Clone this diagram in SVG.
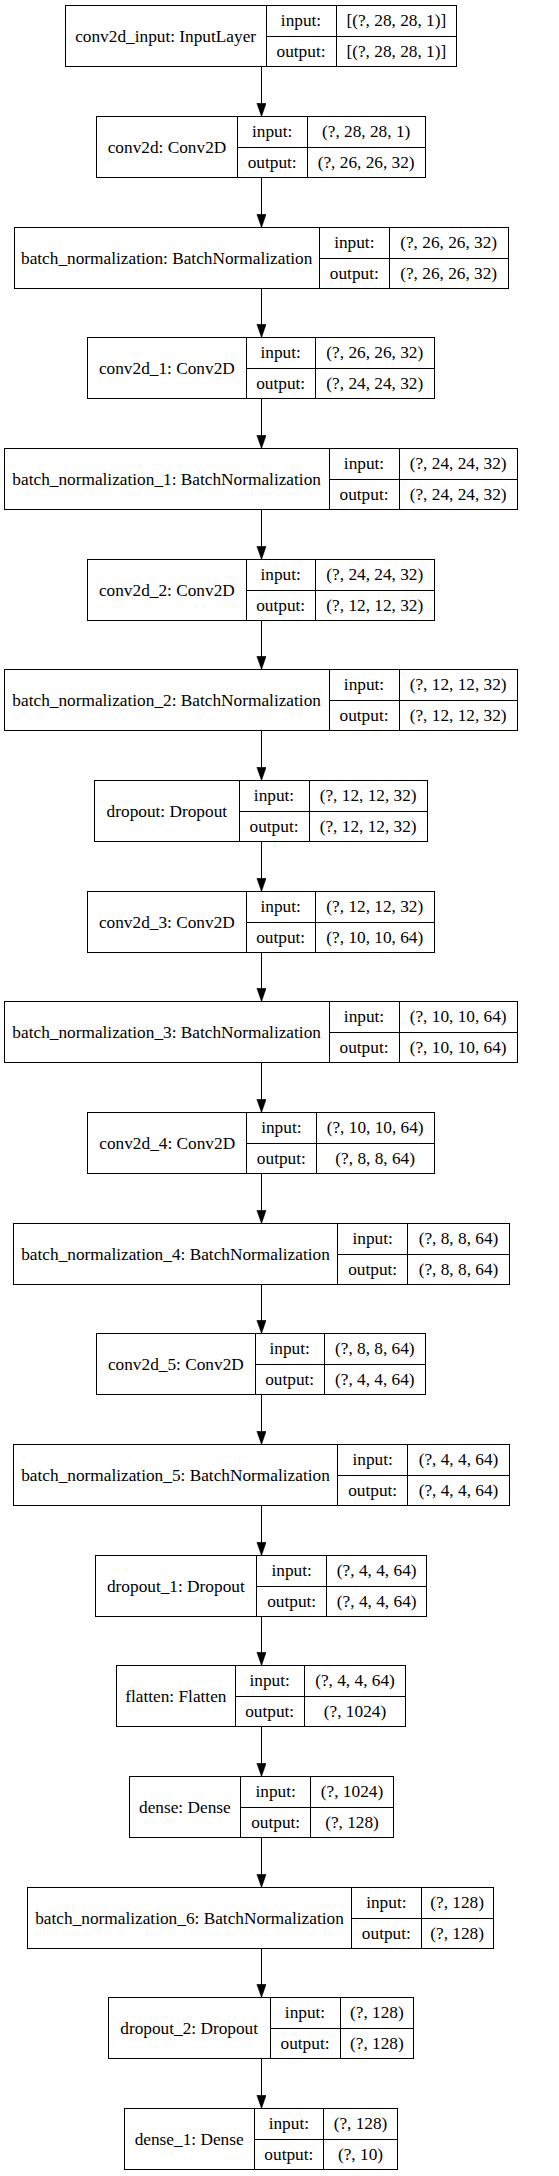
<svg xmlns="http://www.w3.org/2000/svg" width="559" height="2176" viewBox="0 0 559 2176" font-family="'Liberation Serif', 'Times New Roman', serif">
<style>
.n rect{fill:#fff;stroke:#000;stroke-width:1}
.n path{fill:none;stroke:#000;stroke-width:1}
.n text{font-family:'Liberation Serif','Times New Roman',serif;font-size:17.3px;fill:#000;text-anchor:middle}
#edges line{stroke:#000;stroke-width:1}
</style>
<defs>
<marker id="ah" markerUnits="userSpaceOnUse" markerWidth="14" markerHeight="10" refX="13.33" refY="4.67" orient="auto">
<path d="M0,0L13.33,4.67L0,9.33z" fill="#000" stroke="#000" stroke-width="0.5"/>
</marker>
</defs>
<rect width="559" height="2176" fill="#fff"/>
<g id="edges">
<line x1="261.5" y1="66.5" x2="261.5" y2="116.5" marker-end="url(#ah)"/>
<line x1="261.5" y1="177.5" x2="261.5" y2="227.5" marker-end="url(#ah)"/>
<line x1="261.5" y1="288.5" x2="261.5" y2="337.5" marker-end="url(#ah)"/>
<line x1="261.5" y1="398.5" x2="261.5" y2="448.5" marker-end="url(#ah)"/>
<line x1="261.5" y1="509.5" x2="261.5" y2="559.5" marker-end="url(#ah)"/>
<line x1="261.5" y1="620.5" x2="261.5" y2="669.5" marker-end="url(#ah)"/>
<line x1="261.5" y1="730.5" x2="261.5" y2="780.5" marker-end="url(#ah)"/>
<line x1="261.5" y1="841.5" x2="261.5" y2="891.5" marker-end="url(#ah)"/>
<line x1="261.5" y1="952.5" x2="261.5" y2="1001.5" marker-end="url(#ah)"/>
<line x1="261.5" y1="1062.5" x2="261.5" y2="1112.5" marker-end="url(#ah)"/>
<line x1="261.5" y1="1173.5" x2="261.5" y2="1223.5" marker-end="url(#ah)"/>
<line x1="261.5" y1="1284.5" x2="261.5" y2="1333.5" marker-end="url(#ah)"/>
<line x1="261.5" y1="1394.5" x2="261.5" y2="1444.5" marker-end="url(#ah)"/>
<line x1="261.5" y1="1505.5" x2="261.5" y2="1555.5" marker-end="url(#ah)"/>
<line x1="261.5" y1="1616.5" x2="261.5" y2="1665.5" marker-end="url(#ah)"/>
<line x1="261.5" y1="1726.5" x2="261.5" y2="1776.5" marker-end="url(#ah)"/>
<line x1="261.5" y1="1837.5" x2="261.5" y2="1887.5" marker-end="url(#ah)"/>
<line x1="261.5" y1="1948.5" x2="261.5" y2="1997.5" marker-end="url(#ah)"/>
<line x1="261.5" y1="2058.5" x2="261.5" y2="2108.5" marker-end="url(#ah)"/>
</g>
<g id="n0" class="n"><rect x="65.5" y="5.5" width="391" height="61"/><path d="M266.5,5.5V66.5M336.5,5.5V66.5M266.5,36.5H456.5"/><text x="165.65" y="41.9">conv2d_input: InputLayer</text><text x="301" y="26.3">input:</text><text x="301" y="57.2">output:</text><text x="396.35" y="26.3">[(?, 28, 28, 1)]</text><text x="396.35" y="57.2">[(?, 28, 28, 1)]</text></g>
<g id="n1" class="n"><rect x="96.5" y="116.5" width="329" height="61"/><path d="M237.5,116.5V177.5M307.5,116.5V177.5M237.5,147.5H425.5"/><text x="167" y="152.9">conv2d: Conv2D</text><text x="272.15" y="137.3">input:</text><text x="272.15" y="168.2">output:</text><text x="366.15" y="137.3">(?, 28, 28, 1)</text><text x="366.15" y="168.2">(?, 26, 26, 32)</text></g>
<g id="n2" class="n"><rect x="14.5" y="227.5" width="494" height="61"/><path d="M319.5,227.5V288.5M389.5,227.5V288.5M319.5,258.5H508.5"/><text x="166.65" y="263.9">batch_normalization: BatchNormalization</text><text x="354.3" y="248.3">input:</text><text x="354.3" y="279.2">output:</text><text x="448.65" y="248.3">(?, 26, 26, 32)</text><text x="448.65" y="279.2">(?, 26, 26, 32)</text></g>
<g id="n3" class="n"><rect x="87.5" y="337.5" width="347" height="61"/><path d="M246.5,337.5V398.5M315.5,337.5V398.5M246.5,368.5H434.5"/><text x="166.85" y="373.9">conv2d_1: Conv2D</text><text x="280.65" y="358.3">input:</text><text x="280.65" y="389.2">output:</text><text x="374.8" y="358.3">(?, 26, 26, 32)</text><text x="374.8" y="389.2">(?, 24, 24, 32)</text></g>
<g id="n4" class="n"><rect x="4.5" y="448.5" width="513" height="61"/><path d="M329.5,448.5V509.5M399.5,448.5V509.5M329.5,479.5H517.5"/><text x="166.65" y="484.9">batch_normalization_1: BatchNormalization</text><text x="364" y="469.3">input:</text><text x="364" y="500.2">output:</text><text x="458.15" y="469.3">(?, 24, 24, 32)</text><text x="458.15" y="500.2">(?, 24, 24, 32)</text></g>
<g id="n5" class="n"><rect x="87.5" y="559.5" width="347" height="61"/><path d="M246.5,559.5V620.5M315.5,559.5V620.5M246.5,590.5H434.5"/><text x="166.85" y="595.9">conv2d_2: Conv2D</text><text x="280.65" y="580.3">input:</text><text x="280.65" y="611.2">output:</text><text x="374.8" y="580.3">(?, 24, 24, 32)</text><text x="374.8" y="611.2">(?, 12, 12, 32)</text></g>
<g id="n6" class="n"><rect x="4.5" y="669.5" width="513" height="61"/><path d="M329.5,669.5V730.5M399.5,669.5V730.5M329.5,700.5H517.5"/><text x="166.65" y="705.9">batch_normalization_2: BatchNormalization</text><text x="364" y="690.3">input:</text><text x="364" y="721.2">output:</text><text x="458.15" y="690.3">(?, 12, 12, 32)</text><text x="458.15" y="721.2">(?, 12, 12, 32)</text></g>
<g id="n7" class="n"><rect x="94.5" y="780.5" width="333" height="61"/><path d="M239.5,780.5V841.5M309.5,780.5V841.5M239.5,811.5H427.5"/><text x="166.85" y="816.9">dropout: Dropout</text><text x="274" y="801.3">input:</text><text x="274" y="832.2">output:</text><text x="368.15" y="801.3">(?, 12, 12, 32)</text><text x="368.15" y="832.2">(?, 12, 12, 32)</text></g>
<g id="n8" class="n"><rect x="87.5" y="891.5" width="347" height="61"/><path d="M246.5,891.5V952.5M315.5,891.5V952.5M246.5,922.5H434.5"/><text x="166.85" y="927.9">conv2d_3: Conv2D</text><text x="280.65" y="912.3">input:</text><text x="280.65" y="943.2">output:</text><text x="374.8" y="912.3">(?, 12, 12, 32)</text><text x="374.8" y="943.2">(?, 10, 10, 64)</text></g>
<g id="n9" class="n"><rect x="4.5" y="1001.5" width="513" height="61"/><path d="M329.5,1001.5V1062.5M399.5,1001.5V1062.5M329.5,1032.5H517.5"/><text x="166.65" y="1037.9">batch_normalization_3: BatchNormalization</text><text x="364" y="1022.3">input:</text><text x="364" y="1053.2">output:</text><text x="458.15" y="1022.3">(?, 10, 10, 64)</text><text x="458.15" y="1053.2">(?, 10, 10, 64)</text></g>
<g id="n10" class="n"><rect x="87.5" y="1112.5" width="347" height="61"/><path d="M246.5,1112.5V1173.5M316.5,1112.5V1173.5M246.5,1143.5H434.5"/><text x="167.2" y="1148.9">conv2d_4: Conv2D</text><text x="281.35" y="1133.3">input:</text><text x="281.35" y="1164.2">output:</text><text x="375.15" y="1133.3">(?, 10, 10, 64)</text><text x="375.15" y="1164.2">(?, 8, 8, 64)</text></g>
<g id="n11" class="n"><rect x="13.5" y="1223.5" width="496" height="61"/><path d="M337.5,1223.5V1284.5M407.5,1223.5V1284.5M337.5,1254.5H509.5"/><text x="175.5" y="1259.9">batch_normalization_4: BatchNormalization</text><text x="372.7" y="1244.3">input:</text><text x="372.7" y="1275.2">output:</text><text x="458.5" y="1244.3">(?, 8, 8, 64)</text><text x="458.5" y="1275.2">(?, 8, 8, 64)</text></g>
<g id="n12" class="n"><rect x="96.5" y="1333.5" width="329" height="61"/><path d="M255.5,1333.5V1394.5M324.5,1333.5V1394.5M255.5,1364.5H425.5"/><text x="175.85" y="1369.9">conv2d_5: Conv2D</text><text x="289.65" y="1354.3">input:</text><text x="289.65" y="1385.2">output:</text><text x="374.8" y="1354.3">(?, 8, 8, 64)</text><text x="374.8" y="1385.2">(?, 4, 4, 64)</text></g>
<g id="n13" class="n"><rect x="13.5" y="1444.5" width="496" height="61"/><path d="M337.5,1444.5V1505.5M407.5,1444.5V1505.5M337.5,1475.5H509.5"/><text x="175.5" y="1480.9">batch_normalization_5: BatchNormalization</text><text x="372.7" y="1465.3">input:</text><text x="372.7" y="1496.2">output:</text><text x="458.5" y="1465.3">(?, 4, 4, 64)</text><text x="458.5" y="1496.2">(?, 4, 4, 64)</text></g>
<g id="n14" class="n"><rect x="95.5" y="1555.5" width="331" height="61"/><path d="M256.5,1555.5V1616.5M326.5,1555.5V1616.5M256.5,1586.5H426.5"/><text x="175.85" y="1591.9">dropout_1: Dropout</text><text x="291.7" y="1576.3">input:</text><text x="291.7" y="1607.2">output:</text><text x="376.7" y="1576.3">(?, 4, 4, 64)</text><text x="376.7" y="1607.2">(?, 4, 4, 64)</text></g>
<g id="n15" class="n"><rect x="116.5" y="1665.5" width="289" height="61"/><path d="M235.5,1665.5V1726.5M304.5,1665.5V1726.5M235.5,1696.5H405.5"/><text x="175.85" y="1701.9">flatten: Flatten</text><text x="269.65" y="1686.3">input:</text><text x="269.65" y="1717.2">output:</text><text x="355" y="1686.3">(?, 4, 4, 64)</text><text x="355" y="1717.2">(?, 1024)</text></g>
<g id="n16" class="n"><rect x="129.5" y="1776.5" width="264" height="61"/><path d="M240.5,1776.5V1837.5M310.5,1776.5V1837.5M240.5,1807.5H393.5"/><text x="184.85" y="1812.9">dense: Dense</text><text x="275.7" y="1797.3">input:</text><text x="275.7" y="1828.2">output:</text><text x="352" y="1797.3">(?, 1024)</text><text x="352" y="1828.2">(?, 128)</text></g>
<g id="n17" class="n"><rect x="27.5" y="1887.5" width="466" height="61"/><path d="M351.5,1887.5V1948.5M421.5,1887.5V1948.5M351.5,1918.5H493.5"/><text x="189.5" y="1923.9">batch_normalization_6: BatchNormalization</text><text x="386.35" y="1908.3">input:</text><text x="386.35" y="1939.2">output:</text><text x="457.15" y="1908.3">(?, 128)</text><text x="457.15" y="1939.2">(?, 128)</text></g>
<g id="n18" class="n"><rect x="108.5" y="1997.5" width="305" height="61"/><path d="M270.5,1997.5V2058.5M340.5,1997.5V2058.5M270.5,2028.5H413.5"/><text x="189.15" y="2033.9">dropout_2: Dropout</text><text x="305" y="2018.3">input:</text><text x="305" y="2049.2">output:</text><text x="376.85" y="2018.3">(?, 128)</text><text x="376.85" y="2049.2">(?, 128)</text></g>
<g id="n19" class="n"><rect x="124.5" y="2108.5" width="273" height="61"/><path d="M254.5,2108.5V2169.5M323.5,2108.5V2169.5M254.5,2139.5H397.5"/><text x="189.15" y="2144.9">dense_1: Dense</text><text x="288.85" y="2129.3">input:</text><text x="288.85" y="2160.2">output:</text><text x="360.5" y="2129.3">(?, 128)</text><text x="360.5" y="2160.2">(?, 10)</text></g>
</svg>
